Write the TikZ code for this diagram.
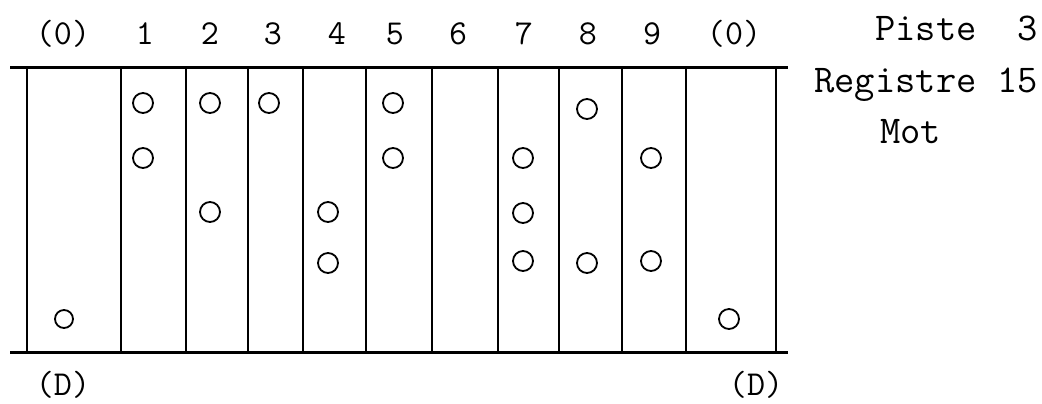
\documentclass[tikz,border=0pt]{standalone}
\usepackage{fontspec}
\usepackage{tikz}
\usetikzlibrary{positioning}
\tikzset{trou/.style={line width=0.9pt}}
\tikzset{bord/.style={line width=1.5pt}}
\tikzset{sep/.style={line width=0.8pt}}
\tikzset{chiffre/.style={font=\fontsize{17.5}{20}\selectfont\ttfamily, anchor=base, inner sep=0pt}}
\tikzset{texte/.style={font=\fontsize{19.7}{23}\selectfont\ttfamily, inner sep=0pt}}
\begin{document}
\begin{tikzpicture}[x=0.5pt,y=-0.5pt]
			\useasboundingbox (0,0) rectangle (1042,403);
			
			% numeros de colonne
			\node[chiffre] (c0) at (63,44) {(0)};
			\node[chiffre] (c1) at (145,44) {1};
			\node[chiffre] (c2) at (210,44) {2};
			\node[chiffre] (c3) at (273,44) {3};
			\node[chiffre] (c4) at (337,44) {4};
			\node[chiffre] (c5) at (395,44) {5};
			\node[chiffre] (c6) at (458,44) {6};
			\node[chiffre] (c7) at (524,44) {7};
			\node[chiffre] (c8) at (588,44) {8};
			\node[chiffre] (c9) at (652,44) {9};
			\node[chiffre] (c10) at (734,44) {(0)};
			
			\node[chiffre] (dg) at (63,395) {(D)};
			\node[chiffre] (dd) at (756,395) {(D)};
			
			\node[texte, anchor=base east] (piste) at (1038,40) {Piste\ \ 3};
			\node[texte, anchor=base east] (registre) at (1038,92) {Registre 15};
			\node[texte, anchor=base west] (mot) at (880,143) {Mot};
			
			% bande
			\draw[bord] (10,67) -- (788,67);
			\draw[bord] (10,352) -- (788,352);
			
			\draw[sep] (27,67) -- (27,352);
			\draw[sep] (121,67) -- (121,352);
			\draw[sep] (186,67) -- (186,352);
			\draw[sep] (248,67) -- (248,352);
			\draw[sep] (303,67) -- (303,352);
			\draw[sep] (366,67) -- (366,352);
			\draw[sep] (432,67) -- (432,352);
			\draw[sep] (498,67) -- (498,352);
			\draw[sep] (559,67) -- (559,352);
			\draw[sep] (622,67) -- (622,352);
			\draw[sep] (686,67) -- (686,352);
			\draw[sep] (776,67) -- (776,352);
			
			% perforations
			\draw[trou] (143,103) circle (10);
			\draw[trou] (143,158) circle (10);
			\draw[trou] (210,103) circle (10);
			\draw[trou] (210,212) circle (10);
			\draw[trou] (269,103) circle (10);
			\draw[trou] (328,212) circle (10);
			\draw[trou] (328,263) circle (10);
			\draw[trou] (393,103) circle (10);
			\draw[trou] (393,158) circle (10);
			\draw[trou] (523,158) circle (10);
			\draw[trou] (523,213) circle (10);
			\draw[trou] (523,261) circle (10);
			\draw[trou] (587,109) circle (10);
			\draw[trou] (587,263) circle (10);
			\draw[trou] (651,158) circle (10);
			\draw[trou] (651,261) circle (10);
			\draw[trou] (64,319) circle (9);
			\draw[trou] (729,319) circle (10);
		\end{tikzpicture}
\end{document}
